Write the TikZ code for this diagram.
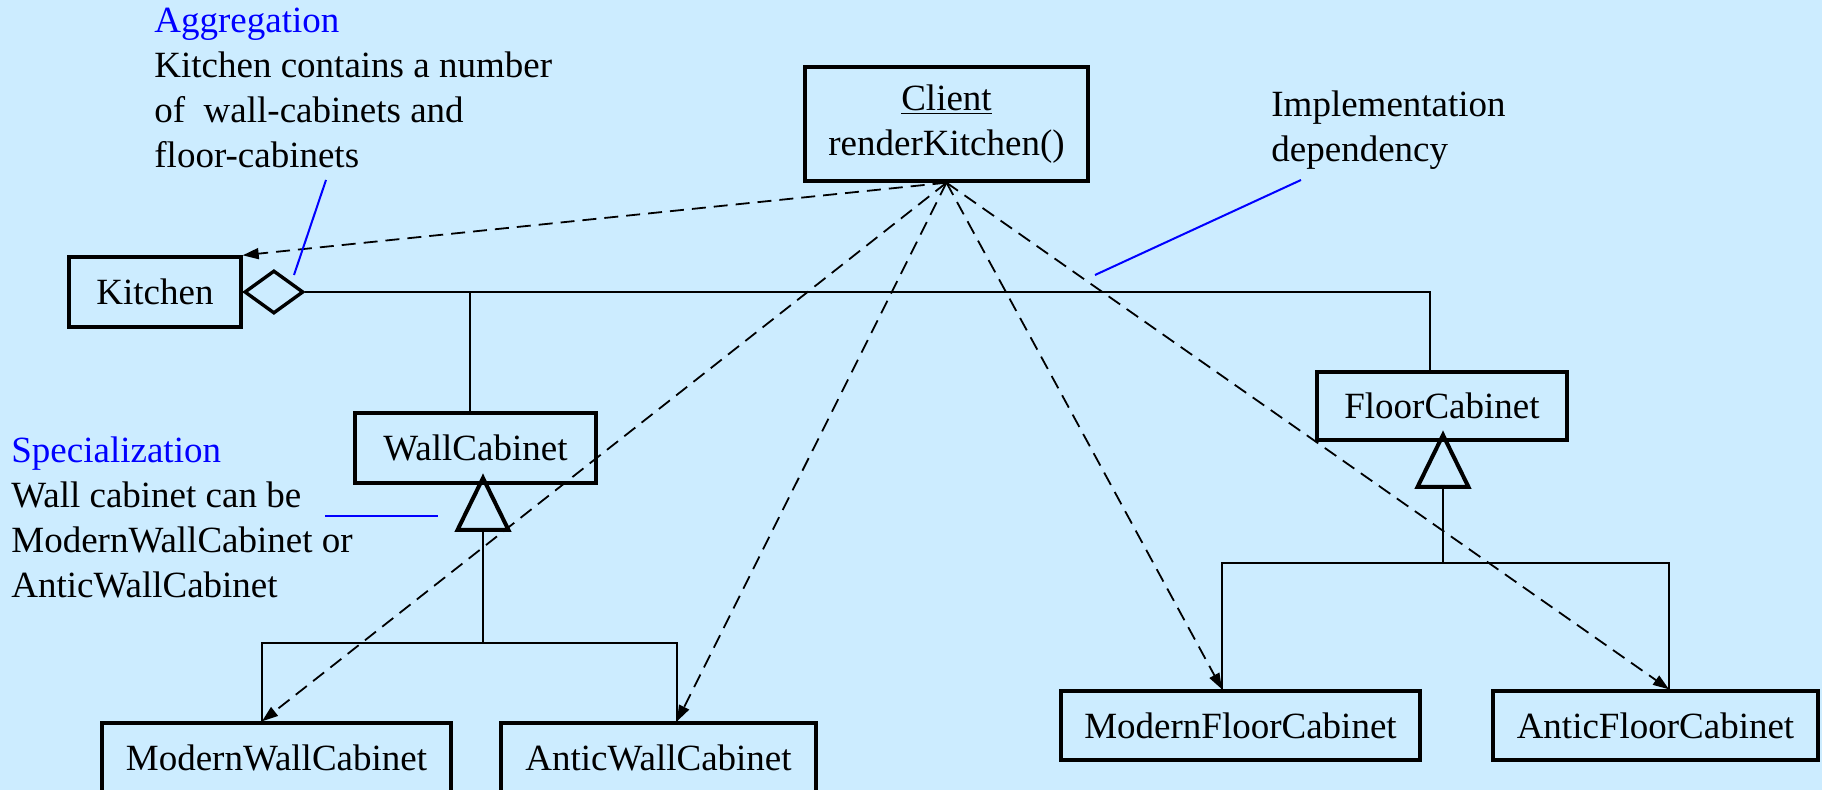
\documentclass[tikz,border=0pt]{standalone}
\usepackage{fontspec}
\setmainfont{Liberation Serif}
\usepackage{xcolor}
\definecolor{cBack}{HTML}{CCECFF}
\definecolor{cNote}{HTML}{0000FF}
\definecolor{cLine}{HTML}{000000}
\usetikzlibrary{arrows.meta,shapes.geometric,calc}
\tikzset{
  node-class/.style={draw=cLine,line width=1.7pt,minimum height=35pt,
    inner sep=0pt,align=center},
  node-agg/.style={draw=cLine,line width=1.7pt,diamond,minimum width=29.5pt,
    minimum height=21.5pt,inner sep=0pt},
  % base anchor = baseline of the last line
  node-note/.style={align=left,inner sep=0pt,anchor=base west},
  line-link/.style={draw=cLine,line width=0.9pt},
  line-gen/.style={draw=cLine,line width=2pt,line join=miter},
  arrow-dep/.style={-{Triangle[length=8pt,width=5.5pt]},line width=0.9pt,
    dash pattern=on 7pt off 4pt,draw=cLine},
  line-note/.style={draw=cNote,line width=1pt},
}
\begin{document}
\begin{tikzpicture}[x=0.5pt,y=-0.5pt,font=\fontsize{18.5}{22.5}\selectfont]
  \path[use as bounding box] (0,0) rectangle (1822,790);
  \clip (0,0) rectangle (1822,790);
  \fill[cBack] (0,0) rectangle (1822,790);
  % classes
  \node[node-class,minimum width=141.5pt,minimum height=57pt] (client) at (946.5,124) {\underline{Client}\\renderKitchen()};
  \node[node-class,minimum width=86pt] (kitchen) at (155,292) {Kitchen};
  \node[node-agg,anchor=west] (agg) at (kitchen.east) {};
  \node[node-class,minimum width=120.5pt] (wall) at (475.5,448) {WallCabinet};
  \node[node-class,minimum width=125pt,minimum height=34pt] (floor) at (1442,406) {FloorCabinet};
  \node[node-class,minimum width=174.5pt] (mwall) at (276.5,758) {ModernWallCabinet};
  \node[node-class,minimum width=157.5pt] (awall) at (658.5,758) {AnticWallCabinet};
  \node[node-class,minimum width=179.5pt,minimum height=34.5pt] (mfloor) at (1240.5,725.5) {ModernFloorCabinet};
  \node[node-class,minimum width=162.5pt,minimum height=34.5pt] (afloor) at (1655.5,725.5) {AnticFloorCabinet};
  % aggregation
  \coordinate (wjoin) at (470,292);
  \coordinate (fjoin) at (1430,292);
  \draw[line-link] (agg.east) -- (fjoin) -- (fjoin |- floor.north);
  \draw[line-link] (wjoin) -- (wjoin |- wall.north);
  % specialization
  \coordinate (wtip) at (483,478);
  \coordinate (wbase) at (483,530);
  \coordinate (wbusL) at (262,643);
  \coordinate (wbusR) at (677,643);
  \draw[line-gen] (wtip) -- ++(-25.5,52) -- ++(51,0) -- cycle;
  \draw[line-link] (wbase) -- (wbase |- wbusL);
  \draw[line-link] (mwall.north -| wbusL) |- (wbusR) -- (awall.north -| wbusR);
  \coordinate (ftip) at (1443,435);
  \coordinate (fbase) at (1443,487);
  \coordinate (fbusL) at (1222,563);
  \coordinate (fbusR) at (1669,563);
  \draw[line-gen] (ftip) -- ++(-25.5,52) -- ++(51,0) -- cycle;
  \draw[line-link] (fbase) -- (fbase |- fbusL);
  \draw[line-link] (mfloor.north -| fbusL) |- (fbusR) -- (afloor.north -| fbusR);
  % dependencies
  \draw[arrow-dep] (client.south) -- (kitchen.north east);
  \draw[arrow-dep] (client.south) -- (mwall.north -| wbusL);
  \draw[arrow-dep] (client.south) -- (awall.north -| wbusR);
  \draw[arrow-dep] (client.south) -- (mfloor.north -| fbusL);
  \draw[arrow-dep] (client.south) -- (afloor.north -| fbusR);
  % notes
  \node[node-note] (aggnote) at (154,168) {\textcolor{cNote}{Aggregation}\\Kitchen contains a number\\of\ \ wall-cabinets and\\floor-cabinets};
  \node[node-note] (implnote) at (1271,162) {Implementation\\dependency};
  \node[node-note] (specnote) at (11,598) {\textcolor{cNote}{Specialization}\\Wall cabinet can be\\ModernWallCabinet or\\AnticWallCabinet};
  \coordinate (aggpin) at (326,180);
  \coordinate (implpin) at (1301,180);
  \coordinate (specpin) at (325,516);
  \draw[line-note] (aggpin) -- (294,275);
  \draw[line-note] (implpin) -- (1095,275);
  \draw[line-note] (specpin) -- (438,516);
\end{tikzpicture}
\end{document}
